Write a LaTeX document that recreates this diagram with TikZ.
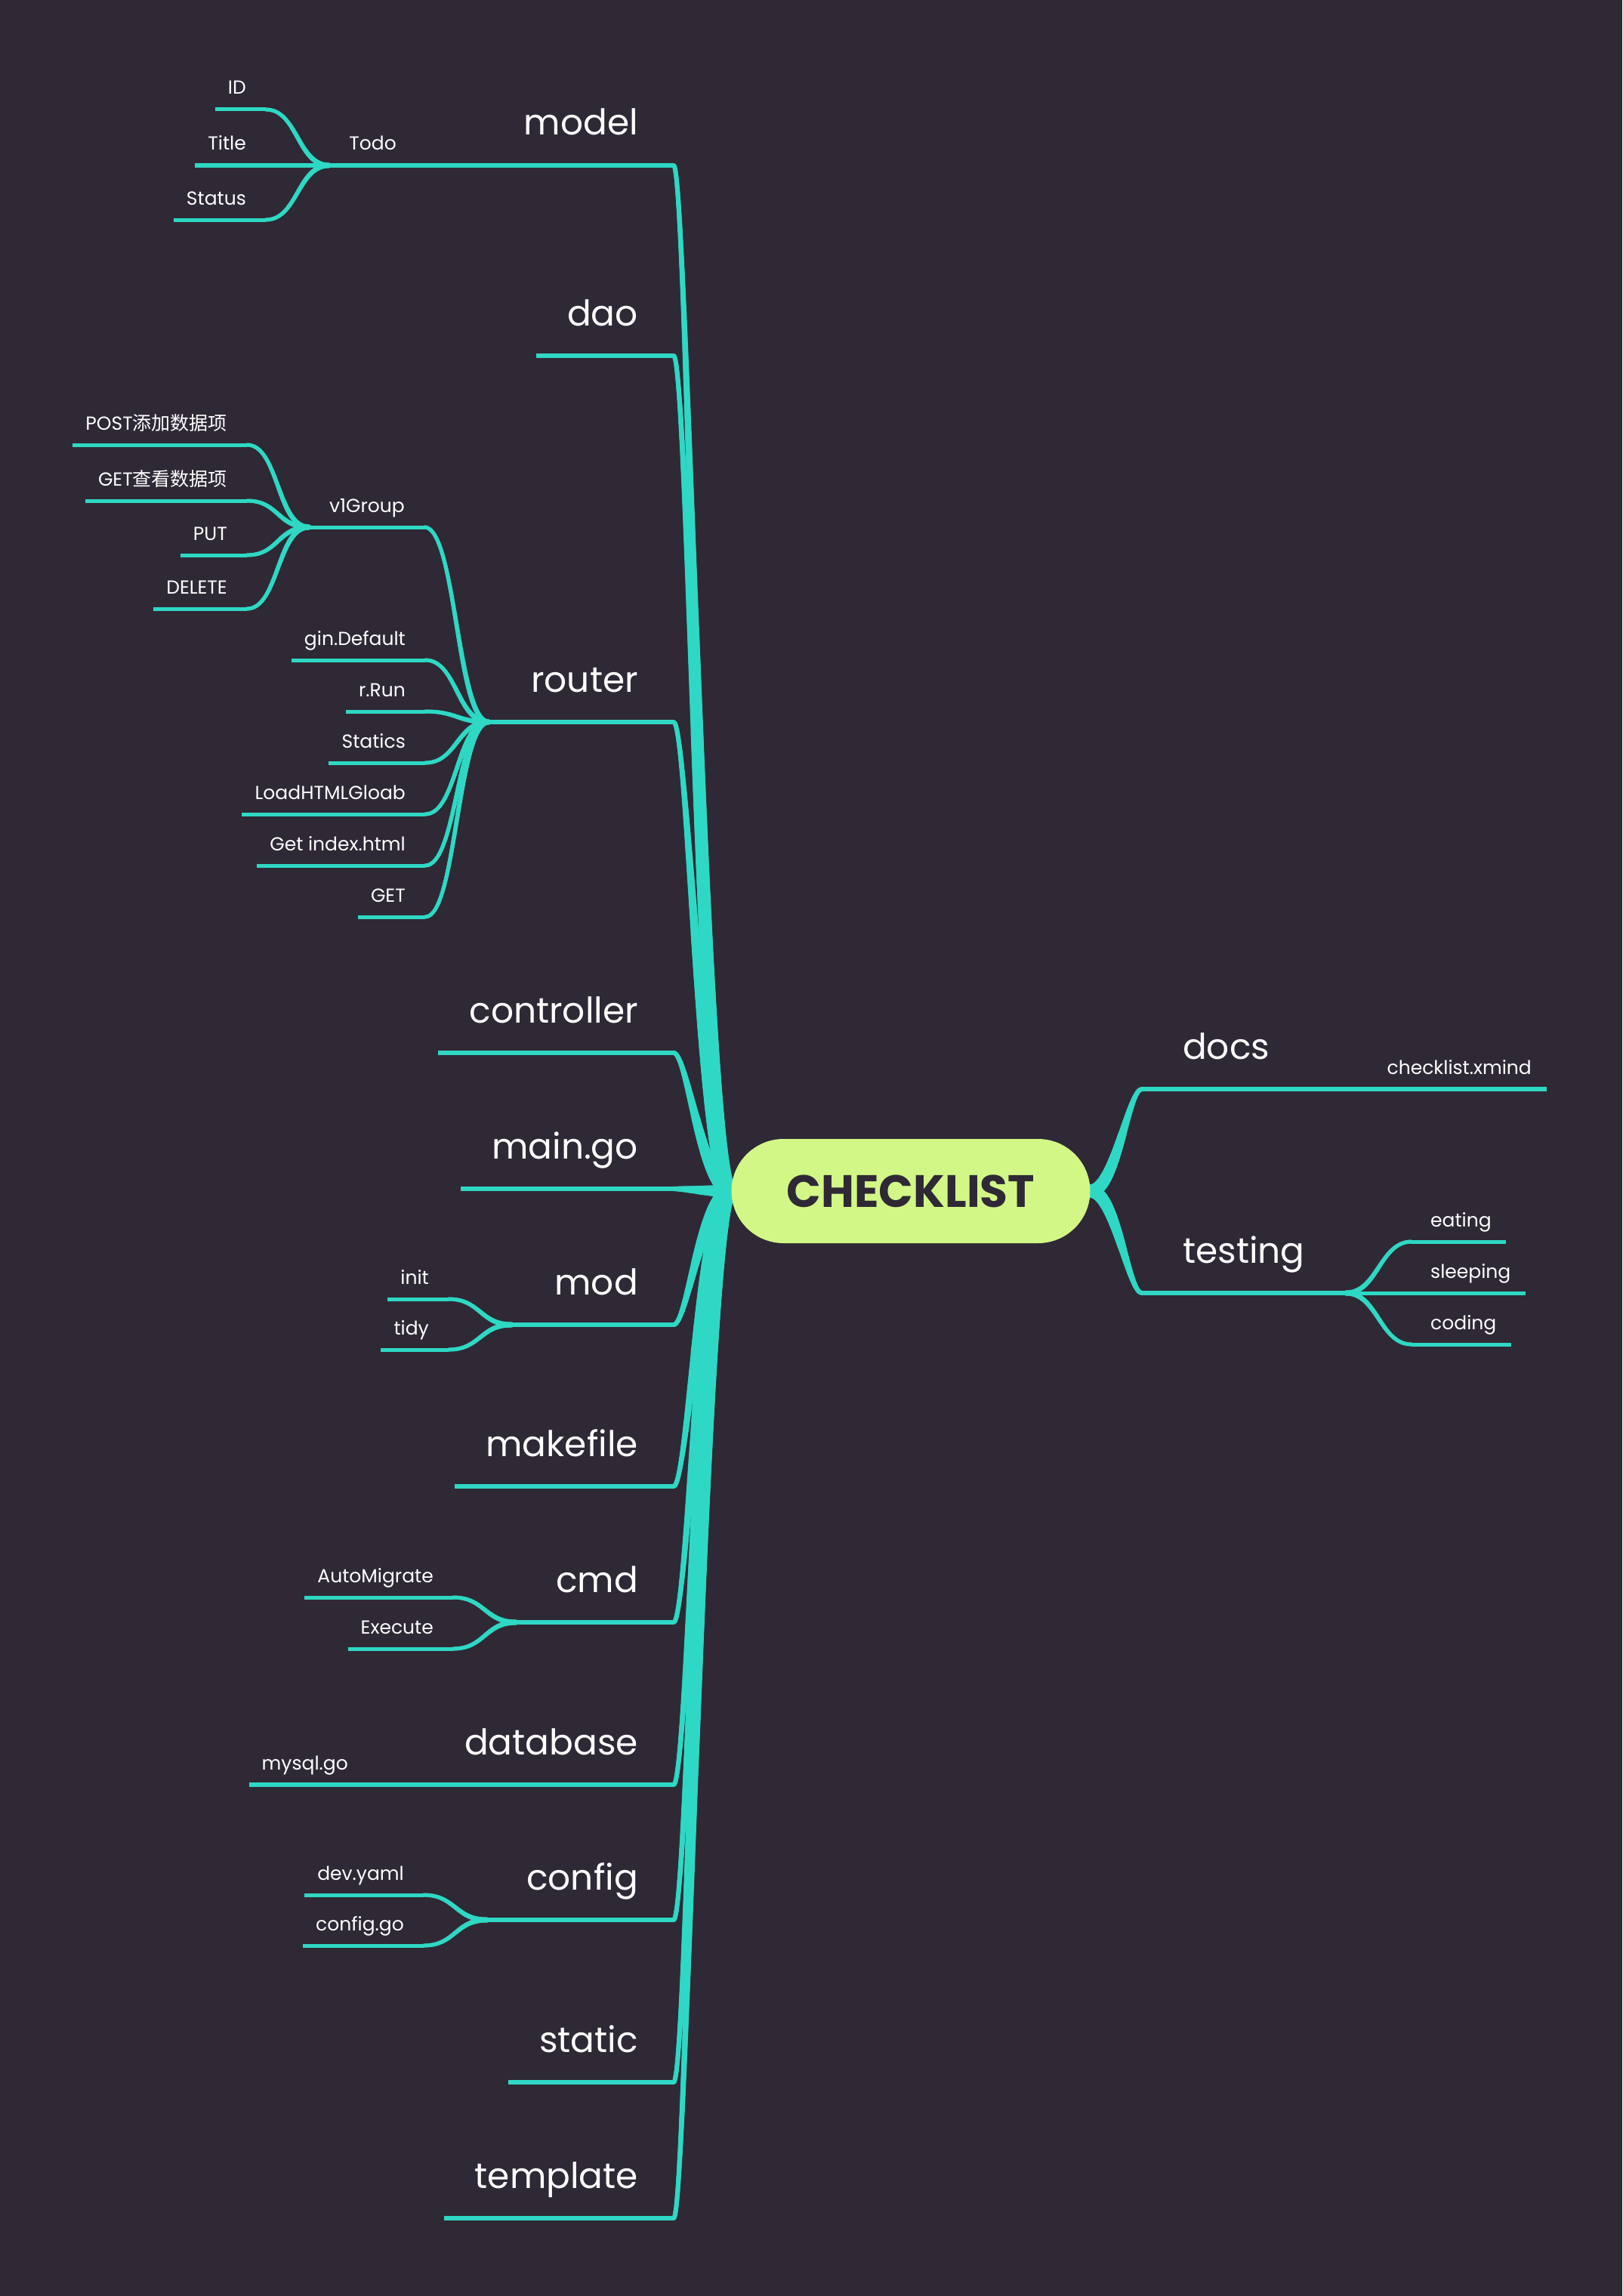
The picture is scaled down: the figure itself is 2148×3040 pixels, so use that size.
\documentclass[tikz,border=0pt]{standalone}
\usepackage{fontspec}
\setmainfont{Poppins}
\newfontfamily\cjk{Noto Sans CJK SC}
\usetikzlibrary{calc,decorations.markings}
\definecolor{bg}{HTML}{2F2935}
\definecolor{br}{HTML}{2ED8C4}
\definecolor{rootc}{HTML}{D2F786}
\tikzset{
  mainlab/.style={text=white, inner sep=0pt, font=\fontsize{47}{47}\selectfont},
  sublab/.style={text=white, inner sep=0pt, font=\fontsize{25}{25}\selectfont},
  ln/.style={draw=br, line width=6pt},
  sln/.style={draw=br, line width=5pt},
}
% tapered curve: #1 start, #2 c1, #3 c2, #4 end, #5 start width, #6 end width
\newcommand\tcurve[6]{%
  \draw[br, line width=#5pt] #1 .. controls #2 and #3 .. #4;
  \path[decorate, decoration={markings,
    mark=between positions 0 and 1 step 2.5pt with {%
      \pgfmathsetmacro\rr{0.5*(#5+(#6-#5)*min(1,\pgfkeysvalueof{/pgf/decoration/mark info/sequence number}*2.5/\pgfdecoratedpathlength))}%
      \fill[br] (0,0) circle[radius=\rr pt];}}]
    #1 .. controls #2 and #3 .. #4;
}
\newcommand\lmain[1]{\tcurve{(#1)}{($(#1)+(18,0)$)}{($(rootL)+(-38,0)$)}{(rootL)}{6}{18}}
\newcommand\rmain[1]{\tcurve{(#1)}{($(#1)+(-18,0)$)}{($(rootR)+(33,0)$)}{(rootR)}{6}{18}}
\newcommand\lsub[2]{\tcurve{(#1)}{($(#1)+(42,0)$)}{($(#2)+(-42,0)$)}{(#2)}{5}{7.5}}
\newcommand\rsub[2]{\tcurve{(#1)}{($(#1)+(-42,0)$)}{($(#2)+(42,0)$)}{(#2)}{5}{7.5}}
\begin{document}
\begin{tikzpicture}[x=1pt,y=-1pt]
\fill[bg] (0,0) rectangle (2148,3040);
\useasboundingbox (0,0) rectangle (2148,3040);

% root attach points
\coordinate (rootL) at (968,1577);
\coordinate (rootR) at (1444,1577);

% ---------- left main branch ends ----------
\coordinate (model-e) at (892,219);
\coordinate (dao-e) at (892,471);
\coordinate (router-e) at (892,956);
\coordinate (controller-e) at (892,1394);
\coordinate (maingo-e) at (892,1574);
\coordinate (mod-e) at (892,1754);
\coordinate (makefile-e) at (892,1968);
\coordinate (cmd-e) at (892,2148);
\coordinate (database-e) at (892,2363);
\coordinate (config-e) at (892,2542);
\coordinate (static-e) at (892,2757);
\coordinate (template-e) at (892,2937);

% junctions
\coordinate (todo-j) at (436,219);
\coordinate (todo-e) at (551,219);
\coordinate (v1-j) at (409,698);
\coordinate (v1-e) at (562,698);
\coordinate (router-j) at (647,956);
\coordinate (mod-j) at (678,1754);
\coordinate (cmd-j) at (684,2148);
\coordinate (config-j) at (645,2542);

% child straight ends
\coordinate (id-e) at (352,145);
\coordinate (status-e) at (352,291);
\coordinate (post-e) at (327,589);
\coordinate (getv-e) at (327,663);
\coordinate (put-e) at (327,735);
\coordinate (delete-e) at (327,806);
\coordinate (gin-e) at (563,874);
\coordinate (rrun-e) at (563,942);
\coordinate (statics-e) at (563,1010);
\coordinate (load-e) at (563,1078);
\coordinate (getidx-e) at (563,1146);
\coordinate (get-e) at (563,1214);
\coordinate (init-e) at (594,1720);
\coordinate (tidy-e) at (594,1787);
\coordinate (auto-e) at (600,2115);
\coordinate (exec-e) at (600,2183);
\coordinate (mysql-e) at (487,2363);
\coordinate (devy-e) at (561,2509);
\coordinate (cfggo-e) at (561,2576);

% right side
\coordinate (docs-s) at (1512,1442);
\coordinate (testing-s) at (1512,1712);
\coordinate (testing-j) at (1782,1712);
\coordinate (eating-s) at (1869,1644);
\coordinate (coding-s) at (1869,1780);

% ---------- labels ----------
\node[mainlab, anchor=base east] (model) at (845,179) {model};
\node[mainlab, anchor=base east] (dao) at (845,431) {dao};
\node[mainlab, anchor=base east] (router) at (845,916) {router};
\node[mainlab, anchor=base east] (controller) at (845,1354) {controller};
\node[mainlab, anchor=base east] (maingo) at (845,1534) {main.go};
\node[mainlab, anchor=base east] (mod) at (845,1714) {mod};
\node[mainlab, anchor=base east] (makefile) at (845,1928) {makefile};
\node[mainlab, anchor=base east] (cmd) at (845,2108) {cmd};
\node[mainlab, anchor=base east] (database) at (845,2323) {database};
\node[mainlab, anchor=base east] (config) at (845,2502) {config};
\node[mainlab, anchor=base east] (static) at (845,2717) {static};
\node[mainlab, anchor=base east] (template) at (845,2897) {template};

\node[sublab, anchor=base east] (todo) at (525,199) {Todo};
\node[sublab, anchor=base east] (id) at (326,125) {ID};
\node[sublab, anchor=base east] (title) at (326,199) {Title};
\node[sublab, anchor=base east] (status) at (326,271) {Status};

\node[sublab, anchor=base east] (v1) at (536,678) {v1Group};
\node[sublab, anchor=base east] (post) at (301,569) {POST{\cjk 添加数据项}};
\node[sublab, anchor=base east] (getv) at (301,643) {GET{\cjk 查看数据项}};
\node[sublab, anchor=base east] (put) at (301,715) {PUT};
\node[sublab, anchor=base east] (delete) at (301,786) {DELETE};

\node[sublab, anchor=base east] (gin) at (537,854) {gin.Default};
\node[sublab, anchor=base east] (rrun) at (537,922) {r.Run};
\node[sublab, anchor=base east] (statics) at (537,990) {Statics};
\node[sublab, anchor=base east] (load) at (537,1058) {LoadHTMLGloab};
\node[sublab, anchor=base east] (getidx) at (537,1126) {Get index.html};
\node[sublab, anchor=base east] (get) at (537,1194) {GET};

\node[sublab, anchor=base east] (init) at (568,1700) {init};
\node[sublab, anchor=base east] (tidy) at (568,1767) {tidy};
\node[sublab, anchor=base east] (auto) at (574,2095) {AutoMigrate};
\node[sublab, anchor=base east] (exec) at (574,2163) {Execute};
\node[sublab, anchor=base east] (mysql) at (461,2343) {mysql.go};
\node[sublab, anchor=base east] (devy) at (535,2489) {dev.yaml};
\node[sublab, anchor=base east] (cfggo) at (535,2556) {config.go};

\node[mainlab, anchor=base west] (docs) at (1566,1402) {docs};
\node[mainlab, anchor=base west] (testing) at (1566,1672) {testing};
\node[sublab, anchor=base east] (xmind) at (2028,1422) {checklist.xmind};
\node[sublab, anchor=base west] (eating) at (1894,1624) {eating};
\node[sublab, anchor=base west] (sleeping) at (1894,1692) {sleeping};
\node[sublab, anchor=base west] (coding) at (1894,1760) {coding};

% ---------- tapered curves to root ----------
\lmain{model-e}\lmain{dao-e}\lmain{router-e}\lmain{controller-e}
\lmain{maingo-e}\lmain{mod-e}\lmain{makefile-e}\lmain{cmd-e}
\lmain{database-e}\lmain{config-e}\lmain{static-e}\lmain{template-e}
\rmain{docs-s}\rmain{testing-s}

% ---------- sub curves ----------
\lsub{id-e}{todo-j}\lsub{status-e}{todo-j}
\lsub{post-e}{v1-j}\lsub{getv-e}{v1-j}\lsub{put-e}{v1-j}\lsub{delete-e}{v1-j}
\lsub{v1-e}{router-j}
\lsub{gin-e}{router-j}\lsub{rrun-e}{router-j}\lsub{statics-e}{router-j}
\lsub{load-e}{router-j}\lsub{getidx-e}{router-j}\lsub{get-e}{router-j}
\lsub{init-e}{mod-j}\lsub{tidy-e}{mod-j}
\lsub{auto-e}{cmd-j}\lsub{exec-e}{cmd-j}
\lsub{devy-e}{config-j}\lsub{cfggo-e}{config-j}
\rsub{eating-s}{testing-j}\rsub{coding-s}{testing-j}

% ---------- horizontal lines ----------
\draw[ln] (todo-e) -- (model-e);
\draw[ln] (todo-j) -- (todo-e);
\draw[sln] ($(id.west |- id-e)+(-17,0)$) -- (id-e);
\draw[ln] ($(title.west |- todo-j)+(-17,0)$) -- (todo-j);
\draw[sln] ($(status.west |- status-e)+(-17,0)$) -- (status-e);
\draw[ln] ($(dao.west |- dao-e)+(-41,0)$) -- (dao-e);
\draw[ln] (router-j) -- (router-e);
\draw[sln] (v1-j) -- (v1-e);
\draw[sln] ($(post.west |- post-e)+(-17,0)$) -- (post-e);
\draw[sln] ($(getv.west |- getv-e)+(-17,0)$) -- (getv-e);
\draw[sln] ($(put.west |- put-e)+(-17,0)$) -- (put-e);
\draw[sln] ($(delete.west |- delete-e)+(-17,0)$) -- (delete-e);
\draw[sln] ($(gin.west |- gin-e)+(-17,0)$) -- (gin-e);
\draw[sln] ($(rrun.west |- rrun-e)+(-17,0)$) -- (rrun-e);
\draw[sln] ($(statics.west |- statics-e)+(-17,0)$) -- (statics-e);
\draw[sln] ($(load.west |- load-e)+(-17,0)$) -- (load-e);
\draw[sln] ($(getidx.west |- getidx-e)+(-17,0)$) -- (getidx-e);
\draw[sln] ($(get.west |- get-e)+(-17,0)$) -- (get-e);
\draw[ln] ($(controller.west |- controller-e)+(-41,0)$) -- (controller-e);
\draw[ln] ($(maingo.west |- maingo-e)+(-41,0)$) -- (maingo-e);
\draw[ln] (mod-j) -- (mod-e);
\draw[sln] ($(init.west |- init-e)+(-17,0)$) -- (init-e);
\draw[sln] ($(tidy.west |- tidy-e)+(-17,0)$) -- (tidy-e);
\draw[ln] ($(makefile.west |- makefile-e)+(-41,0)$) -- (makefile-e);
\draw[ln] (cmd-j) -- (cmd-e);
\draw[sln] ($(auto.west |- auto-e)+(-17,0)$) -- (auto-e);
\draw[sln] ($(exec.west |- exec-e)+(-17,0)$) -- (exec-e);
\draw[ln] ($(mysql.west |- mysql-e)+(-17,0)$) -- (mysql-e);
\draw[ln] (mysql-e) -- (database-e);
\draw[ln] (config-j) -- (config-e);
\draw[sln] ($(devy.west |- devy-e)+(-17,0)$) -- (devy-e);
\draw[sln] ($(cfggo.west |- cfggo-e)+(-17,0)$) -- (cfggo-e);
\draw[ln] ($(static.west |- static-e)+(-41,0)$) -- (static-e);
\draw[ln] ($(template.west |- template-e)+(-41,0)$) -- (template-e);

\draw[ln] (docs-s) -- ($(xmind.east |- docs-s)+(20,0)$);
\draw[ln] (testing-s) -- (testing-j);
\draw[sln] (eating-s) -- ($(eating.east |- eating-s)+(19,0)$);
\draw[sln] (testing-j) -- ($(sleeping.east |- testing-j)+(19,0)$);
\draw[sln] (coding-s) -- ($(coding.east |- coding-s)+(19,0)$);

% ---------- root ----------
\node[fill=rootc, rounded corners=69pt, minimum width=475pt, minimum height=138pt,
      inner sep=0pt, text=bg, font=\bfseries\fontsize{60}{60}\selectfont]
      (root) at (1206,1577) {CHECKLIST};
\end{tikzpicture}
\end{document}
